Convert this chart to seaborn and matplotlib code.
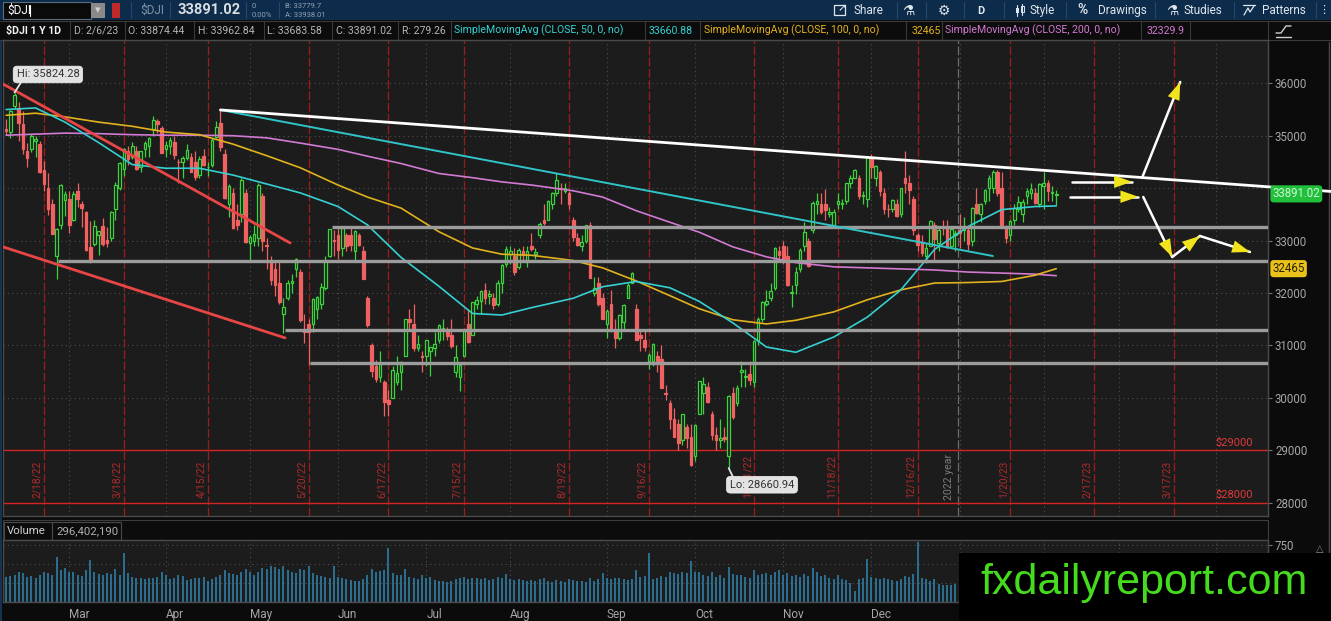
import numpy as np
import seaborn as sns
import matplotlib.pyplot as plt
from matplotlib.patches import Rectangle
from matplotlib.transforms import blended_transform_factory

# ---------------------------------------------------------------- data
# $DJI daily candles, 2/7/22 .. 2/6/23 (one row per week in each list)
OPEN = [
    35120, 35064, 35560, 35520, 35230,
    34700, 34750, 34900, 34850, 34340,
    34000, 33690, 32700, 33290, 33780,
    33800, 33400, 33950, 33700,
    33540, 32880, 32930, 33110, 33280,
    33010, 33050, 33610, 34010, 34370,
    34700, 34600, 34700, 34400, 34750,
    34800, 35120, 35280, 35150,
    34750,
    34800, 34880, 34500, 34500, 34580,
    34600, 34500, 34250, 34620,
    34400, 34450, 34970, 35240, 34650,
    33700, 33900, 33400, 33500, 33900,
    32950, 33000, 33050, 33850, 32900,
    32600, 32450, 32200, 31600, 31900,
    32200, 32450, 32400, 31300, 31400,
    31400, 31700, 31800, 32100, 32700,
    33000,
    33100, 32850, 33100,
    33100, 32800, 33100, 32800, 31900,
    31000, 30600, 30400, 30300, 29960,
    30000, 30300, 30500, 30800,
    31500, 31400, 30950, 30800,
    30800,
    30900, 30960, 31100, 31300,
    31300, 31200, 30500, 30400, 30800,
    31400, 31200, 31800, 31850, 32050,
    31950, 31900, 31800, 32200, 32550,
    32750, 32700, 32500, 32800, 32600,
    32900, 32750, 33100, 33400, 33400,
    33700, 33900, 34000, 33950, 33900,
    33400, 33050, 32900, 33000, 33300,
    32000, 32200, 31900,
    31400, 31800,
    31300, 31150, 31450, 31900,
    32200, 31700, 31200, 31100, 30700,
    30700, 30800, 30750, 30100, 29900,
    29600, 29500, 29200, 29450, 29250,
    28900, 29700, 30100, 30200, 29700,
    29300, 29200, 29250, 28900, 30100,
    29900, 30500, 30400, 30450, 30300,
    31100, 31500, 31800, 31900, 32100,
    32800,
    32900, 32700, 32000, 32150,
    32450, 32900, 33000, 33200, 33700,
    33700, 33700, 33500, 33300, 33700,
    33700, 33750, 34100, 34200,
    34200, 33850, 33800,
    34600, 34200,
    34300, 33900, 33600, 33600, 33700,
    33500, 34200, 34100, 33800, 33100,
    32950, 32700, 32900, 33300, 32950,
    33250, 33250, 32900, 33100,
    33200, 33200, 33200, 33000,
    33700, 33500, 33750, 34000, 34000,
    34300, 34000, 33250, 33100,
    33400, 33600, 33500, 33850, 33900,
    33900, 33700,
    34050, 34100, 33900, 33874,
]
HIGH = [
    35320, 35500, 35824, 35650, 35480,
    34860, 35030, 35000, 34900, 34520,
    34290, 33800, 33240, 34070, 33950,
    33950, 33950, 34090, 33760,
    33560, 33380, 33390, 33190, 33430,
    33260, 33560, 34110, 34490, 34760,
    34800, 34880, 34800, 34710, 34900,
    34970, 35370, 35320, 35190,
    34900,
    34970, 35000, 34560, 34610, 34850,
    34680, 34700, 34620, 34750,
    34500, 34950, 35280, 35492, 34750,
    34070, 34000, 33700, 34200, 33980,
    33100, 33290, 34100, 33900, 33050,
    32700, 32600, 32600, 31900, 32240,
    32370, 32670, 32450, 31600, 31500,
    31900, 31950, 32200, 32700, 33220,
    33200,
    33250, 33260, 33150,
    33250, 33200, 33150, 32900, 31950,
    31050, 30720, 30900, 30350, 30150,
    30600, 30800, 30700, 31510,
    31700, 31800, 31200, 30900,
    31100,
    30970, 31250, 31400, 31500,
    31350, 31500, 31000, 30650, 31300,
    31700, 31830, 31950, 32050, 32200,
    32050, 32000, 32250, 32550, 32900,
    32900, 32850, 32850, 32900, 32900,
    33150, 32850, 33350, 33700, 33770,
    33930, 34281, 34100, 34100, 33950,
    33450, 33150, 33100, 33300, 33350,
    32300, 32300, 32000,
    31700, 32050,
    31500, 31600, 31800, 32200,
    32400, 31800, 31300, 31300, 30850,
    31050, 30900, 31000, 30250, 29950,
    29800, 29600, 29700, 29500, 29500,
    29500, 30320, 30400, 30300, 29750,
    29450, 29600, 29450, 30050, 30200,
    30250, 30700, 30550, 30700, 31100,
    31550, 31850, 32050, 32200, 32870,
    32900,
    33000, 32900, 32150, 32500,
    32850, 33350, 33050, 33750, 33900,
    33900, 33990, 33650, 33600, 33900,
    33800, 34100, 34250, 34360,
    34250, 33950, 34600,
    34650, 34450,
    34350, 34000, 33700, 33800, 33800,
    34010, 34712, 34250, 33850, 33150,
    33100, 32950, 33400, 33350, 33250,
    33400, 33400, 33250, 33200,
    33500, 33450, 33250, 33650,
    34000, 33710, 33980, 34250, 34350,
    34350, 34300, 33300, 33400,
    33700, 33850, 33800, 34000, 34100,
    34000, 34100,
    34300, 34150, 34050, 33963,
]
LOW = [
    35010, 34950, 35530, 34900, 34650,
    34400, 34690, 34600, 34280, 33950,
    33480, 33120, 32272, 33230, 33470,
    33150, 33380, 33650, 33250,
    32800, 32580, 32890, 32720, 32900,
    32880, 33000, 33400, 33960, 34240,
    34450, 34550, 34350, 34300, 34600,
    34600, 35000, 35050, 34670,
    34600,
    34650, 34560, 34100, 34200, 34530,
    34300, 34150, 34200, 34420,
    34230, 34400, 34960, 34710, 33790,
    33450, 33230, 33200, 33350, 32960,
    32600, 32900, 32900, 32800, 32450,
    32150, 31950, 31800, 31230, 31860,
    32000, 32300, 31450, 31050, 30635,
    31250, 31500, 31700, 32050, 32680,
    32700,
    32650, 32700, 32800,
    32800, 32600, 32900, 32260, 31350,
    30400, 30300, 30300, 29650, 29650,
    30000, 30250, 30150, 30800,
    31300, 30900, 30900, 30500,
    30600,
    30420, 30800, 31050, 31100,
    31100, 30950, 30400, 30140, 30800,
    31050, 31200, 31700, 31600, 31800,
    31800, 31700, 31750, 32000, 32500,
    32550, 32350, 32450, 32600, 32500,
    32800, 32650, 33050, 33300, 33400,
    33600, 33850, 33700, 33900, 33600,
    33000, 32900, 32800, 32950, 32280,
    31950, 31750, 31500,
    31150, 31250,
    30950, 31100, 31300, 31900,
    32200, 31100, 30900, 30900, 30550,
    30600, 30500, 30180, 29950, 29400,
    29250, 29000, 29100, 29050, 28700,
    28800, 29700, 29700, 29900, 29200,
    29000, 29050, 29150, 28661, 29600,
    29850, 30200, 30200, 30250, 30200,
    31000, 31450, 31750, 31850, 32050,
    32650,
    32550, 32140, 31730, 31980,
    32400, 32800, 32500, 33150, 33500,
    33500, 33400, 33450, 33250, 33600,
    33600, 33700, 34000, 34200,
    33800, 33700, 33650,
    34200, 34050,
    33850, 33500, 33450, 33550, 33450,
    33450, 33900, 33700, 33100, 32800,
    32700, 32570, 32900, 32600, 32800,
    33100, 32850, 32900, 32800,
    32850, 33000, 32820, 32900,
    33500, 33350, 33700, 33750, 33900,
    33850, 33300, 32950, 33000,
    33300, 33550, 33350, 33700, 33800,
    33700, 33650,
    33600, 33750, 33750, 33684,
]
CLOSE = [
    35091, 35463, 35768, 35241, 34738,
    34566, 34988, 34934, 34312, 34079,
    33596, 33131, 33223, 34058, 33892,
    33294, 33891, 33794, 33614,
    32817, 32632, 33286, 33174, 32944,
    32945, 33544, 34063, 34480, 34754,
    34552, 34807, 34358, 34707, 34861,
    34955, 35294, 35228, 34678,
    34818,
    34921, 34641, 34496, 34583, 34721,
    34308, 34220, 34564, 34451,
    34411, 34911, 35160, 34793, 33811,
    34049, 33240, 33302, 34160, 32977,
    33061, 33129, 34061, 32998, 32899,
    32246, 32160, 31834, 31730, 32197,
    32223, 32655, 31490, 31253, 31262,
    31880, 31929, 32120, 32637, 33213,
    32990,
    32813, 33248, 32900,
    32916, 33180, 32910, 32273, 31393,
    30516, 30365, 30669, 29927, 29889,
    30530, 30483, 30677, 31501,
    31439, 30947, 31029, 30775,
    31097,
    30968, 31037, 31385, 31338,
    31173, 30981, 30772, 30630, 31288,
    31073, 31827, 31875, 32036, 31899,
    31990, 31762, 32198, 32529, 32845,
    32798, 32397, 32813, 32727, 32803,
    32833, 32775, 33310, 33337, 33761,
    33913, 34152, 33980, 33999, 33707,
    33064, 32910, 32969, 33291, 32283,
    32099, 31791, 31510,
    31656, 31318,
    31145, 31581, 31775, 32152,
    32381, 31105, 31135, 30962, 30822,
    31020, 30706, 30184, 30077, 29590,
    29261, 29135, 29684, 29226, 28726,
    29490, 30317, 30274, 29927, 29297,
    29203, 29240, 29211, 30039, 29635,
    30186, 30524, 30424, 30334, 31083,
    31500, 31837, 31840, 32034, 32862,
    32733,
    32653, 32148, 32001, 32403,
    32827, 33161, 32514, 33716, 33748,
    33537, 33593, 33554, 33547, 33746,
    33700, 34098, 34195, 34347,
    33850, 33853, 34590,
    34395, 34430,
    33947, 33597, 33598, 33781, 33476,
    34005, 34108, 33966, 33203, 32920,
    32757, 32850, 33377, 33027, 33204,
    33241, 32876, 33221, 33147,
    33136, 33270, 32930, 33631,
    33518, 33704, 33974, 34190, 34303,
    33910, 33297, 33045, 33376,
    33630, 33734, 33744, 33949, 33978,
    33717, 34086,
    34093, 33949, 33926, 33891,
]
# daily volume, millions
VOLUME = [
    330, 340, 360, 390, 380,
    330, 340, 320, 350, 400,
    380, 360, 590, 420, 450,
    400, 390, 360, 340,
    420, 550, 400, 370, 360,
    380, 370, 430, 360, 645,
    380, 330, 320, 310, 300,
    310, 320, 330, 390,
    350,
    300, 310, 350, 340, 290,
    300, 320, 310, 330,
    280, 300, 330, 360, 420,
    380, 370, 360, 390, 430,
    400, 360, 400, 450, 430,
    470, 460, 440, 480, 420,
    400, 380, 430, 420, 470,
    380, 360, 340, 330, 320,
    480,
    330, 320, 300,
    290, 280, 270, 300, 350,
    430, 400, 410, 420, 710,
    380, 350, 360, 440,
    330, 320, 300, 350,
    320,
    330, 290, 280, 270,
    260, 270, 300, 310, 330,
    300, 320, 310, 300, 320,
    290, 300, 330, 320, 370,
    300, 290, 300, 290, 280,
    290, 280, 300, 310, 270,
    260, 290, 280, 260, 300,
    290, 280, 270, 260, 310,
    270, 300, 380,
    320, 300,
    310, 320, 300, 290,
    300, 420, 330, 340, 640,
    300, 320, 340, 330, 400,
    380, 370, 390, 380, 540,
    390, 400, 350, 340, 390,
    330, 360, 320, 460, 370,
    350, 360, 330, 320, 420,
    360, 370, 380, 350, 390,
    420,
    350, 380, 340, 360,
    330, 370, 340, 450, 390,
    340, 350, 310, 300, 360,
    300, 290, 250, 150,
    300, 310, 560,
    330, 320,
    300, 310, 300, 290, 270,
    300, 340, 330, 370, 790,
    320, 300, 280, 300, 240,
    220, 230, 230, 240,
    300, 280, 290, 310,
    320, 290, 300, 310, 280,
    320, 340, 330, 350,
    300, 310, 300, 290, 280,
    290, 380,
    350, 380, 360, 296.4,
]

# simple moving averages at these bar numbers
SMA_IDX = [0, 7, 14, 22, 30, 38, 46, 54, 62, 70, 79, 86, 94, 103, 111, 118, 125,
           135, 142, 150, 158, 165, 173, 181, 188, 197, 205, 213, 221, 229, 237, 245, 250]
SMA50 = [35500, 35530, 35260, 34870, 34450, 34380, 34380, 34250, 34080, 33910, 33650,
         33300, 32680, 32130, 31610, 31580, 31720, 31900, 32120, 32220, 32100, 31840,
         31430, 30970, 30870, 31160, 31540, 32060, 32830, 33270, 33590, 33650, 33661]
SMA100 = [35390, 35430, 35360, 35260, 35180, 35070, 35020, 34840, 34620, 34390, 34060,
          33830, 33620, 33170, 32860, 32740, 32720, 32620, 32480, 32230, 31950, 31700,
          31490, 31410, 31480, 31640, 31870, 32060, 32190, 32200, 32220, 32340, 32465]
SMA200 = [35010, 35030, 35050, 35040, 35020, 35010, 35010, 35000, 34960, 34860, 34740,
          34610, 34470, 34280, 34200, 34120, 34060, 33950, 33830, 33570, 33350, 33160,
          32880, 32690, 32580, 32500, 32480, 32460, 32440, 32400, 32380, 32360, 32330]

# x axis: month starts (bar numbers) and option expiration dates
MONTH_IDX = [15, 38, 58, 79, 100, 120, 143, 164, 185, 206, 227, 247, 265, 288]
MONTH_NAMES = ["Mar", "Apr", "May", "Jun", "Jul", "Aug", "Sep", "Oct", "Nov", "Dec",
               "2023", "Feb", "Mar", "Apr"]
EXPIRY_IDX = [9, 28, 48, 72, 91, 109, 134, 153, 178, 198, 217, 239, 259, 278]
EXPIRY_LABELS = ["2/18/22", "3/18/22", "4/15/22", "5/20/22", "6/17/22", "7/15/22",
                 "8/19/22", "9/16/22", "10/21/22", "11/18/22", "12/16/22", "1/20/23",
                 "2/17/23", "3/17/23"]
YEAR_IDX = 226.5

# drawings (bar number, price)
SUPPORT_LEVELS = [33254, 32613, 31290, 30660]
SUPPORT_START = [77.6, 12.3, 66.4, 72.3]
PRICE_LINES = [29000, 28000]
RED_TRENDS = [[(-0.76, 35987), (67.6, 32955)], [(-0.76, 32880), (66.4, 31144)]]
WHITE_TREND = [(51, 35492), (316.9, 33929)]
CYAN_TREND = [(51, 35492), (234.9, 32706)]
ARROWS = [
    [(253.8, 34123), (268.0, 34123)],
    [(253.3, 33837), (269.5, 33837)],
    [(270.4, 34194), (279.5, 36025)],
    [(270.7, 33832), (277.6, 32688)],
    [(277.6, 32688), (284.2, 33088)],
    [(284.2, 33088), (296.1, 32783)],
]

# ---------------------------------------------------------------- style
FIG_BG = "#0b0b0b"
PLOT_BG = "#1c1c1c"
TOOLBAR = "#0d2b4a"
GRID = "#4e4e4e"
AXIS_TXT = "#a6a6a6"
GREEN = "#3cd43c"
RED = "#f06262"
EXP_RED = "#9c1c1c"
CYAN = "#35d0d2"
GOLD = "#e2b21e"
VIOLET = "#d27ad2"
YELLOW = "#f2e41c"

W, H = 1331, 621
XLIM = (-0.76, 300.4)
YLIM = (27747, 36826)


def arrow(ax, p0, p1):
    ax.plot([p0[0], p1[0]], [p0[1], p1[1]], color="white", lw=1.8, zorder=7,
            solid_capstyle="round")
    ax.annotate("", xy=p1, xytext=p0, zorder=8,
                arrowprops=dict(arrowstyle="-|>,head_length=0.8,head_width=0.28",
                                fc=YELLOW, ec=YELLOW, lw=0, mutation_scale=16,
                                shrinkA=0, shrinkB=0))


def main() -> None:
    for name, arr in [("HIGH", HIGH), ("LOW", LOW), ("CLOSE", CLOSE), ("VOLUME", VOLUME)]:
        assert len(arr) == len(OPEN), name

    sns.set_theme(style="dark", rc={"axes.facecolor": PLOT_BG, "figure.facecolor": FIG_BG})
    plt.rcParams["font.family"] = ["Roboto", "DejaVu Sans"]

    fig = plt.figure(figsize=(W / 100, H / 100), dpi=100, facecolor=FIG_BG)

    # pixel-space background layer: toolbar, header, volume header
    bg = fig.add_axes([0, 0, 1, 1], zorder=0)
    bg.set_xlim(0, W)
    bg.set_ylim(H, 0)
    bg.axis("off")
    bg.add_patch(Rectangle((0, 0), W, 20, fc=TOOLBAR, ec="none"))
    bg.add_patch(Rectangle((0, 20), W, 20, fc="#0c0c0c", ec="none"))
    bg.plot([0, W], [20.5, 20.5], color="#3a3a3a", lw=0.8)
    bg.plot([0, W], [39.5, 39.5], color="#3a3a3a", lw=0.8)
    bg.add_patch(Rectangle((0, 40), 2, H - 40, fc="#16324f", ec="none"))
    bg.plot([1329, 1329], [42, 600], color="#4a4a4a", lw=1)

    # toolbar left
    bg.add_patch(Rectangle((3, 2), 88, 17, fc="#0a0a0a", ec="#5c6c7c", lw=0.8))
    bg.text(7, 10.5, "$DJI", color="white", fontsize=8.5, va="center")
    bg.plot([30, 30], [5, 16], color="white", lw=0.8)
    bg.add_patch(Rectangle((91, 3), 14, 15, fc="#8a8a8a", ec="none"))
    bg.text(98, 10.5, "▾", color="#d0d0d0", fontsize=8, ha="center", va="center",
            family="DejaVu Sans")
    bg.add_patch(Rectangle((112, 3), 8, 15, fc="#c0282a", ec="none"))
    for sx in [131, 170, 246, 279]:
        bg.plot([sx, sx], [2, 18], color="#24476b", lw=0.8)
    bg.text(140, 10.5, "$DJI", color="#7f94a8", fontsize=8.5, va="center")
    bg.text(177, 10.5, "33891.02", color="#d8dde2", fontsize=10.5, va="center",
            fontweight="bold")
    bg.text(252, 6, "0", color="#8fa2b4", fontsize=5.5, va="center")
    bg.text(252, 15, "0.00%", color="#8fa2b4", fontsize=5.5, va="center")
    bg.text(285, 6, "B: 33779.7", color="#8fa2b4", fontsize=5.5, va="center")
    bg.text(285, 15, "A: 33938.01", color="#8fa2b4", fontsize=5.5, va="center")

    # toolbar right
    tb_txt = "#dfe6ee"
    bg.add_patch(Rectangle((834, 5), 11, 10, fc="none", ec=tb_txt, lw=0.9))
    bg.text(842, 8, "➚", color=tb_txt, fontsize=8, ha="center", va="center",
            family="DejaVu Sans")
    bg.text(853, 10.5, "Share", color=tb_txt, fontsize=8.5, va="center")
    bg.text(908, 10.5, "⚗", color=tb_txt, fontsize=10, ha="center", va="center",
            family="DejaVu Sans")
    bg.text(944, 10.5, "⚙", color=tb_txt, fontsize=10, ha="center", va="center",
            family="DejaVu Sans")
    bg.text(981, 10.5, "D", color=tb_txt, fontsize=8, ha="center", va="center",
            fontweight="bold")
    bg.plot([1017, 1017], [5, 16], color=tb_txt, lw=0.8)
    bg.add_patch(Rectangle((1015.5, 8), 3, 5, fc=tb_txt, ec="none"))
    bg.plot([1022, 1022], [4, 15], color=tb_txt, lw=0.8)
    bg.add_patch(Rectangle((1020.5, 6), 3, 6, fc="none", ec=tb_txt, lw=0.7))
    bg.text(1030, 10.5, "Style", color=tb_txt, fontsize=8.5, va="center")
    bg.text(1077, 10.5, "%", color=tb_txt, fontsize=10, va="center", fontweight="bold")
    bg.text(1098, 10.5, "Drawings", color=tb_txt, fontsize=8.5, va="center")
    bg.text(1172, 10.5, "⚗", color=tb_txt, fontsize=10, ha="center", va="center",
            family="DejaVu Sans")
    bg.text(1184, 10.5, "Studies", color=tb_txt, fontsize=8.5, va="center")
    bg.plot([1243, 1255], [4.5, 4.5], color=tb_txt, lw=0.9)
    bg.plot([1244, 1248, 1250, 1254], [15, 8, 12, 6], color=tb_txt, lw=0.9)
    bg.text(1262, 10.5, "Patterns", color=tb_txt, fontsize=8.5, va="center")
    bg.text(1324, 10.5, "⋮", color=tb_txt, fontsize=8, ha="center", va="center",
            family="DejaVu Sans")
    for sx in [897, 926, 964, 1004, 1066, 1155, 1234, 1316]:
        bg.plot([sx, sx], [2, 18], color="#24476b", lw=0.8)

    # header row with study values
    hdr = [
        (6, "$DJI 1 Y 1D", "#f2f2f2", "bold"),
        (74, "D: 2/6/23", "#b4b4b4", "normal"),
        (128, "O: 33874.44", "#b4b4b4", "normal"),
        (198, "H: 33962.84", "#b4b4b4", "normal"),
        (267, "L: 33683.58", "#b4b4b4", "normal"),
        (336, "C: 33891.02", "#b4b4b4", "normal"),
        (402, "R: 279.26", "#b4b4b4", "normal"),
        (454, "SimpleMovingAvg (CLOSE, 50, 0, no)", CYAN, "normal"),
        (649, "33660.88", CYAN, "normal"),
        (704, "SimpleMovingAvg (CLOSE, 100, 0, no)", GOLD, "normal"),
        (912, "32465", GOLD, "normal"),
        (945, "SimpleMovingAvg (CLOSE, 200, 0, no)", VIOLET, "normal"),
        (1147, "32329.9", VIOLET, "normal"),
    ]
    for hx, txt, col, wt in hdr:
        bg.text(hx, 30.5, txt, color=col, fontsize=7.6, va="center", fontweight=wt)
    for sx in [70, 125, 194, 264, 332, 398, 451, 645, 700, 906, 942, 1141, 1190, 1268]:
        bg.plot([sx, sx], [21, 39], color="#3a3a3a", lw=0.8)
    bg.plot([1276, 1281, 1286, 1291], [33, 33, 26, 26], color="#d0d0d0", lw=1)
    bg.plot([1276, 1291], [36.5, 36.5], color="#d0d0d0", lw=1)

    # volume header
    bg.add_patch(Rectangle((3, 520), 1265, 20, fc="#0c0c0c", ec="#3e3e3e", lw=0.8))
    bg.add_patch(Rectangle((4, 522), 48, 18, fc="none", ec="#4a4a4a", lw=0.8))
    bg.add_patch(Rectangle((52, 522), 69, 18, fc="none", ec="#4a4a4a", lw=0.8))
    bg.text(7, 531, "Volume", color="#d0d0d0", fontsize=8.2, va="center")
    bg.text(56, 531, "296,402,190", color="#b0b0b0", fontsize=8.2, va="center")
    bg.text(1320, 549, "△", color="#8a8a8a", fontsize=7, ha="center", va="center",
            family="DejaVu Sans")

    # ------------------------------------------------------------ price panel
    ax = fig.add_axes([3 / W, 105 / H, 1265 / W, 476 / H], zorder=2)
    ax.set_facecolor(PLOT_BG)
    ax.set_xlim(*XLIM)
    ax.set_ylim(*YLIM)
    for sp in ax.spines.values():
        sp.set_color("#4a4a4a")
        sp.set_linewidth(1)

    for v in range(28000, 36001, 1000):
        ax.axhline(v, color=GRID, ls=(0, (1, 3)), lw=0.8, zorder=0.5)
    for m in MONTH_IDX:
        ax.axvline(m, color=GRID, ls=(0, (1, 3)), lw=0.8, zorder=0.5)

    for e, lab in zip(EXPIRY_IDX, EXPIRY_LABELS):
        ax.axvline(e, color=EXP_RED, ls=(0, (7, 2)), lw=0.9, zorder=1)
        ax.text(e - 0.4, 28091, lab, rotation=90, ha="right", va="bottom",
                color="#b02a2a", fontsize=7.4, zorder=1.2)
    ax.axvline(YEAR_IDX, color="#6c6c6c", ls=(0, (7, 2)), lw=0.9, zorder=1)
    ax.text(YEAR_IDX - 0.8, 28060, "2022 year", rotation=90, ha="right", va="bottom",
            color="#7c7c7c", fontsize=7.6, zorder=1.2)

    for v in PRICE_LINES:
        ax.axhline(v, color="#d42424", lw=1.0, zorder=1.5)
        ax.text(296.9, v + 45, f"${v}", ha="right", va="bottom", color="#e03a3a",
                fontsize=8, zorder=1.6)

    # candles
    o, h, l, c = (np.asarray(a, dtype=float) for a in (OPEN, HIGH, LOW, CLOSE))
    x = np.arange(len(c))
    up = c >= o
    edge = np.where(up, GREEN, RED)
    face = np.where(up, PLOT_BG, RED)
    ax.vlines(x, l, h, colors=edge, lw=0.9, zorder=3)
    ax.bar(x, np.maximum(np.abs(c - o), 12), bottom=np.minimum(o, c), width=0.62,
           color=face, edgecolor=edge, linewidth=0.9, zorder=3.1)

    # moving averages
    for vals, col in [(SMA200, VIOLET), (SMA100, GOLD), (SMA50, CYAN)]:
        sns.lineplot(x=SMA_IDX, y=vals, ax=ax, color=col, lw=1.2, zorder=4)

    # support / resistance and trend lines
    for lvl, start in zip(SUPPORT_LEVELS, SUPPORT_START):
        ax.hlines(lvl, start, XLIM[1], color="#9c9c9c", lw=2.4, zorder=4.5)
    for seg in RED_TRENDS:
        ax.plot(*zip(*seg), color="#e84646", lw=2.0, zorder=5)
    ax.plot(*zip(*CYAN_TREND), color="#30c4c8", lw=1.4, zorder=5)
    ax.plot(*zip(*WHITE_TREND), color="white", lw=2.0, zorder=5.5, clip_on=False)
    for p0, p1 in ARROWS:
        arrow(ax, p0, p1)

    # high / low callouts
    box = dict(boxstyle="round,pad=0.3,rounding_size=0.35", fc="#e2e2e2", ec="#f2f2f2",
               lw=0.5)
    ax.annotate("Hi: 35824.28", xy=(2, max(HIGH)), xytext=(24, 13),
                textcoords="offset points", ha="center", va="center", fontsize=8,
                color="#333333", bbox=box, zorder=9,
                arrowprops=dict(arrowstyle="-", color="#e2e2e2", lw=1.3, shrinkA=0,
                                shrinkB=0, relpos=(0.1, 0.0)))
    ax.annotate("Lo: 28660.94", xy=(172, min(LOW)), xytext=(24, -12),
                textcoords="offset points", ha="center", va="center", fontsize=8,
                color="#333333", bbox=box, zorder=9,
                arrowprops=dict(arrowstyle="-", color="#e2e2e2", lw=1.3, shrinkA=0,
                                shrinkB=0, relpos=(0.07, 1.0)))

    # right axis
    ticks = [v for v in range(28000, 36001, 1000) if v != 34000]
    ax.yaxis.tick_right()
    ax.set_yticks(ticks)
    ax.set_yticklabels([str(v) for v in ticks])
    ax.tick_params(axis="y", colors="#777777", labelcolor=AXIS_TXT, labelsize=8.3,
                   length=3, width=0.8, pad=2)
    ax.set_xticks([])
    ax.set_xlabel("")
    ax.set_ylabel("")
    rt = blended_transform_factory(ax.transAxes, ax.transData)
    ax.text(1.0035, 33891, "33891.02", transform=rt, va="center", ha="left",
            fontsize=8.3, color="#cff7cf", zorder=10,
            bbox=dict(boxstyle="round,pad=0.18,rounding_size=0.3", fc="#20c03c", ec="none"))
    ax.text(1.0035, 32465, "32465", transform=rt, va="center", ha="left",
            fontsize=8.3, color="#2a2200", zorder=10,
            bbox=dict(boxstyle="round,pad=0.18,rounding_size=0.3", fc="#e8c21a", ec="none"))

    # ------------------------------------------------------------ volume panel
    axv = fig.add_axes([3 / W, 19 / H, 1265 / W, 62 / H], zorder=2)
    axv.set_facecolor(PLOT_BG)
    axv.set_xlim(*XLIM)
    axv.set_ylim(0, 816)
    for sp in axv.spines.values():
        sp.set_color("#4a4a4a")
        sp.set_linewidth(1)
    for v in (250, 500, 750):
        axv.axhline(v, color=GRID, ls=(0, (1, 3)), lw=0.8, zorder=0.5)
    for m in MONTH_IDX:
        axv.axvline(m, color=GRID, ls=(0, (1, 3)), lw=0.8, zorder=0.5)
    axv.vlines(x, 0, VOLUME, color="#2f86b2", lw=1.1, zorder=2)
    axv.yaxis.tick_right()
    axv.set_yticks([750])
    axv.set_yticklabels(["750"])
    axv.tick_params(axis="y", colors="#777777", labelcolor=AXIS_TXT, labelsize=8.3,
                    length=3, width=0.8, pad=2)
    axv.set_xticks(MONTH_IDX)
    axv.set_xticklabels(MONTH_NAMES, ha="left")
    axv.tick_params(axis="x", length=0, pad=4, labelcolor=AXIS_TXT, labelsize=8.5)
    axv.set_xlabel("")
    axv.set_ylabel("")

    # ------------------------------------------------------------ watermark
    top = fig.add_axes([0, 0, 1, 1], zorder=10)
    top.set_xlim(0, W)
    top.set_ylim(H, 0)
    top.axis("off")
    top.add_patch(Rectangle((959, 553), W - 959, H - 553, fc="#000000", ec="none"))
    top.text(1144, 583, "fxdailyreport.com", color="#46dc1e", fontsize=31,
             family="Liberation Sans", ha="center", va="center")

    fig.savefig("out.png", dpi=100, facecolor=FIG_BG)


if __name__ == "__main__":
    main()
